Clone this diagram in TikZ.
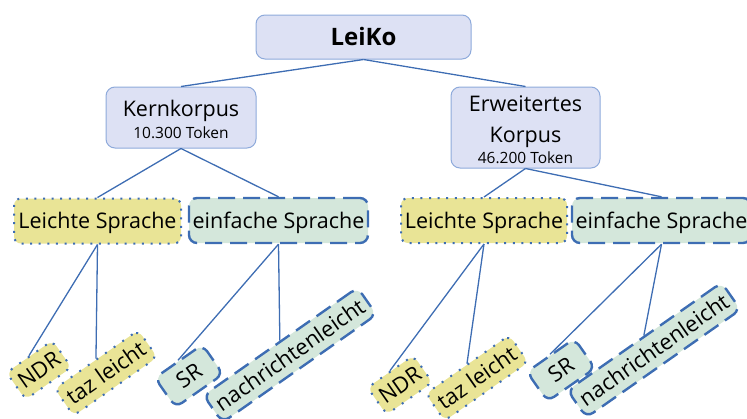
\documentclass[tikz,border=0pt]{standalone}
\usepackage{fontspec}
\setmainfont{Open Sans}
\definecolor{topf}{HTML}{DDE1F4}
\definecolor{topb}{HTML}{8EAADB}
\definecolor{lsf}{HTML}{E9E496}
\definecolor{esf}{HTML}{D4E7DB}
\definecolor{bordc}{HTML}{3D6DB3}
\definecolor{linec}{HTML}{3E6DB3}
\begin{document}
\begin{tikzpicture}[x=1pt,y=-1pt,
  conn/.style={draw=linec, line width=1.3pt},
  topbox/.style={draw=topb, fill=topf, rounded corners=9pt, line width=1pt, inner sep=0pt},
  toptext/.style={anchor=base, inner sep=0pt, font=\fontsize{21.5}{25}\selectfont},
  smalltext/.style={anchor=base, inner sep=0pt, font=\fontsize{15.5}{19}\selectfont},
  lsbox/.style={draw=bordc, fill=lsf, rounded corners=7pt, line width=2pt, dash pattern=on 2pt off 6.6pt,
    inner sep=0pt, text height=15.5pt, text depth=0pt, font=\fontsize{21.5}{25}\selectfont},
  esbox/.style={draw=bordc, fill=esf, rounded corners=8pt, line width=2.4pt, dash pattern=on 17pt off 8pt,
    inner sep=0pt, text height=15.5pt, text depth=0pt, font=\fontsize{21.5}{25}\selectfont},
  midsize/.style={minimum height=45pt},
  leaf/.style={rotate=35, minimum height=33pt, font=\fontsize{22}{26}\selectfont},
  leafdots/.style={dash pattern=on 2pt off 8.5pt}
]
\useasboundingbox (0,0) rectangle (747,418);
\clip (0,0) rectangle (747,418);
% top
\node[topbox, minimum width=215pt, minimum height=44pt, text height=17pt, text depth=0pt,
  font=\fontsize{24}{28}\selectfont\bfseries] (leiko) at (363.5,37) {LeiKo};
\node[topbox, minimum width=150pt, minimum height=61pt] (kern) at (181,117.5) {};
\node[toptext] (kernA) at (181,116) {Kernkorpus};
\node[smalltext] (kernB) at (181,138) {10.300 Token};
\node[topbox, minimum width=149pt, minimum height=81pt] (erw) at (525.5,127.5) {};
\node[toptext] (erwA) at (525.5,111) {Erweitertes};
\node[toptext] (erwB) at (525.5,142) {Korpus};
\node[smalltext] (erwC) at (525.5,163) {46.200 Token};
% middle
\node[lsbox, midsize, minimum width=167pt] (ls1) at (97.5,221) {Leichte Sprache};
\node[esbox, midsize, minimum width=179pt] (es1) at (278.5,220.5) {einfache Sprache};
\node[lsbox, midsize, minimum width=166pt] (ls2) at (484,220.5) {Leichte Sprache};
\node[esbox, midsize, minimum width=179pt] (es2) at (661.5,220.5) {einfache Sprache};
% leaves
\node[lsbox, leaf, leafdots, minimum width=56pt] (ndr1) at (39,370) {NDR};
\node[lsbox, leaf, leafdots, minimum width=102pt] (taz1) at (106,373) {taz leicht};
\node[esbox, leaf, minimum width=58pt, minimum height=36pt] (sr1) at (189,376) {SR};
\node[esbox, leaf, minimum width=188pt] (nl1) at (290,355) {nachrichtenleicht};
\node[lsbox, leaf, leafdots, minimum width=56pt] (ndr2) at (400,385) {NDR};
\node[lsbox, leaf, leafdots, minimum width=102pt] (taz2) at (477,378) {taz leicht};
\node[esbox, leaf, minimum width=58pt, minimum height=36pt] (sr2) at (561,370) {SR};
\node[esbox, leaf, minimum width=188pt] (nl2) at (654,350) {nachrichtenleicht};
% connectors
\draw[conn] (leiko.south) -- (kern.north);
\draw[conn] (leiko.south) -- (erw.north);
\draw[conn] (kern.south) -- (ls1.north);
\draw[conn] (kern.south) -- (es1.north);
\draw[conn] (erw.south) -- (ls2.north);
\draw[conn] (erw.south) -- (es2.north);
\draw[conn] (ls1.south) -- (ndr1.north);
\draw[conn] (ls1.south) -- (taz1.north);
\draw[conn] (es1.south) -- (sr1.north);
\draw[conn] (es1.south) -- (nl1.north);
\draw[conn] (ls2.south) -- (ndr2.north);
\draw[conn] (ls2.south) -- (taz2.north);
\draw[conn] (es2.south) -- (sr2.north);
\draw[conn] (es2.south) -- (nl2.north);
\end{tikzpicture}
\end{document}
